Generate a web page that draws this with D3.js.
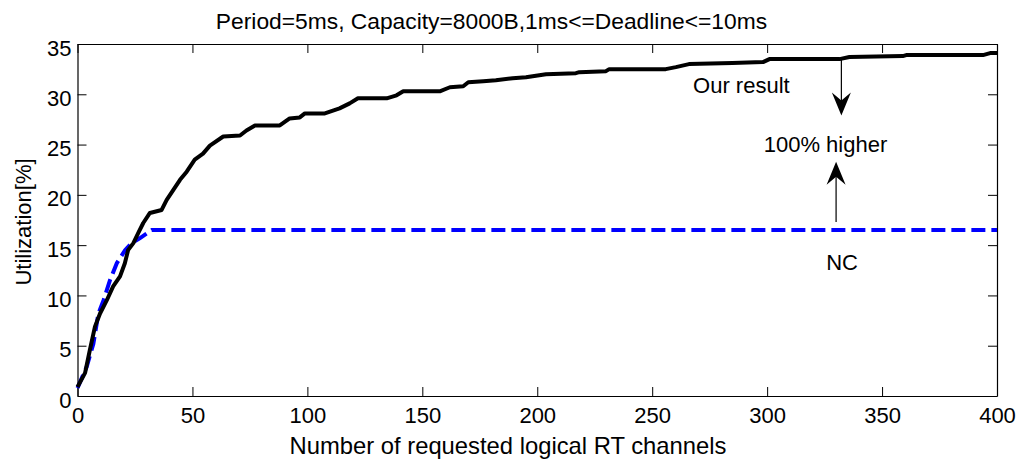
<!DOCTYPE html>
<html>
<head>
<meta charset="utf-8">
<script src="https://cdn.jsdelivr.net/npm/d3@7/dist/d3.min.js"></script>
<style>
  html, body { margin: 0; padding: 0; background: #fff; }
  svg { display: block; }
  text { font-family: "Liberation Sans", Arial, sans-serif; fill: #000; }
</style>
</head>
<body>
<svg id="chart" width="1024" height="459"></svg>
<script>
// Utilization reached by the proposed scheme ("Our result") versus NC
const ourChannels = [0, 3.3, 5.4, 7.6, 9.8, 12.7, 15.5, 18.5, 20.6, 22, 24.3, 26.4, 28.6, 31.5, 36.6, 38.8, 41.7, 44.6, 47.5, 51, 54.6, 57.6, 63.4, 70.7, 73.5, 77.2, 88, 92.3, 96.7, 98.9, 107.6, 114, 118.4, 122, 134.5, 138.8, 141.7, 157.6, 162, 167.8, 170, 176.5, 182, 189.3, 195.1, 203.8, 216.8, 218.3, 229.9, 231.3, 255.9, 260.3, 266, 284.9, 298.2, 301, 331.5, 335.8, 359, 360.5, 393.9, 397, 400];
const ourUtil = [0.9, 2.3, 4.6, 6.9, 8.2, 9.5, 10.9, 11.9, 13.2, 14.5, 15.2, 16.2, 17.2, 18.2, 18.5, 19.5, 20.5, 21.5, 22.3, 23.5, 24.1, 24.9, 25.8, 25.9, 26.4, 26.9, 26.9, 27.6, 27.7, 28.1, 28.1, 28.6, 29.1, 29.6, 29.6, 29.9, 30.3, 30.3, 30.7, 30.8, 31.2, 31.3, 31.4, 31.6, 31.7, 32.0, 32.1, 32.2, 32.3, 32.5, 32.5, 32.7, 33.0, 33.1, 33.2, 33.5, 33.5, 33.7, 33.8, 33.9, 33.9, 34.1, 34.1];

const ncChannels = [0, 4, 6.9, 9.1, 11.3, 14.1, 17.1, 20.7, 23.5, 27.2, 32.3, 400];
const ncUtil = [0.8, 2.9, 5.2, 8.2, 9.5, 11.5, 13.2, 14.5, 15.2, 15.7, 16.5, 16.5];

const xTicks = [0, 50, 100, 150, 200, 250, 300, 350, 400];
const yTicks = [0, 5, 10, 15, 20, 25, 30, 35];

const titleText = "Period=5ms, Capacity=8000B,1ms<=Deadline<=10ms";
const xLabel = "Number of requested logical RT channels";
const yLabel = "Utilization[%]";

// annotation labels: [text, channel, utilization]
const notes = [
  ["Our result", 288.8, 30.1],
  ["100% higher", 325.4, 24.3],
  ["NC", 332.6, 12.5]
];
// arrows: [channel, from utilization, to utilization]
const arrows = [
  [332.3, 33.5, 27.9],
  [330.0, 17.3, 23.3]
];

const W = 1024, H = 459;
const plot = { left: 77.5, right: 997, top: 44, bottom: 396 };
const svg = d3.select("#chart");
svg.append("rect").attr("width", W).attr("height", H).attr("fill", "#fff");

const x = d3.scaleLinear().domain([0, 400]).range([plot.left, plot.right]);
const y = d3.scaleLinear().domain([0, 35]).range([plot.bottom, plot.top]);

const FS = 22;
const tick = 9;

// axes on all four sides with inward ticks
const gB = svg.append("g").attr("transform", `translate(0,${plot.bottom})`)
  .call(d3.axisBottom(x).tickValues(xTicks).tickSizeInner(-tick).tickSizeOuter(0).tickFormat(d3.format("d")));
gB.selectAll("text").attr("y", 27).attr("dy", 0).style("font-size", FS + "px");

const gT = svg.append("g").attr("transform", `translate(0,${plot.top})`)
  .call(d3.axisTop(x).tickValues(xTicks).tickSizeInner(-tick).tickSizeOuter(0).tickFormat(""));

const gL = svg.append("g").attr("transform", `translate(${plot.left},0)`)
  .call(d3.axisLeft(y).tickValues(yTicks).tickSizeInner(-tick).tickSizeOuter(0).tickFormat(d3.format("d")));
gL.selectAll("text").attr("x", -6).attr("dy", 0).attr("y", 11).style("font-size", FS + "px");

const gR = svg.append("g").attr("transform", `translate(${plot.right},0)`)
  .call(d3.axisRight(y).tickValues(yTicks).tickSizeInner(-tick).tickSizeOuter(0).tickFormat(""));

svg.selectAll(".domain").attr("stroke", "#000").attr("stroke-width", 1.2);
svg.selectAll(".tick line").attr("stroke", "#000").attr("stroke-width", 1);
svg.selectAll("g").attr("font-family", null).attr("font-size", null);

// curves
const line = d3.line().x(d => x(d[0])).y(d => y(d[1]));

svg.append("path")
  .datum(ncChannels.map((c, i) => [c, ncUtil[i]]))
  .attr("d", line)
  .attr("fill", "none")
  .attr("stroke", "#0000ff")
  .attr("stroke-width", 4)
  .attr("stroke-dasharray", "14,6");

svg.append("path")
  .datum(ourChannels.map((c, i) => [c, ourUtil[i]]))
  .attr("d", line)
  .attr("fill", "none")
  .attr("stroke", "#000")
  .attr("stroke-width", 4)
  .attr("stroke-linejoin", "round");

// annotation arrows with notched heads
arrows.forEach(([c, u0, u1]) => {
  const ax = x(c), y0 = y(u0), y1 = y(u1);
  const dir = y1 > y0 ? 1 : -1;     // +1 points down
  const len = 23, half = 9.5, notch = 8;
  svg.append("line")
    .attr("x1", ax).attr("y1", y0).attr("x2", ax).attr("y2", y1 - dir * notch)
    .attr("stroke", "#000").attr("stroke-width", 1.2);
  const back = y1 - dir * len;
  svg.append("path")
    .attr("d", `M${ax},${y1} L${ax - half},${back} L${ax},${back + dir * notch} L${ax + half},${back} Z`)
    .attr("fill", "#000");
});

notes.forEach(([t, c, u]) => {
  svg.append("text")
    .attr("x", x(c)).attr("y", y(u))
    .attr("text-anchor", "middle")
    .style("font-size", FS + "px")
    .text(t);
});

// title and axis labels
svg.append("text")
  .attr("x", 491.5).attr("y", 29)
  .attr("text-anchor", "middle")
  .style("font-size", "22.8px")
  .text(titleText);

svg.append("text")
  .attr("x", 508).attr("y", 454)
  .attr("text-anchor", "middle")
  .style("font-size", "23.8px")
  .text(xLabel);

svg.append("text")
  .attr("transform", "translate(31,222) rotate(-90)")
  .attr("text-anchor", "middle")
  .style("font-size", FS + "px")
  .text(yLabel);
</script>
</body>
</html>
